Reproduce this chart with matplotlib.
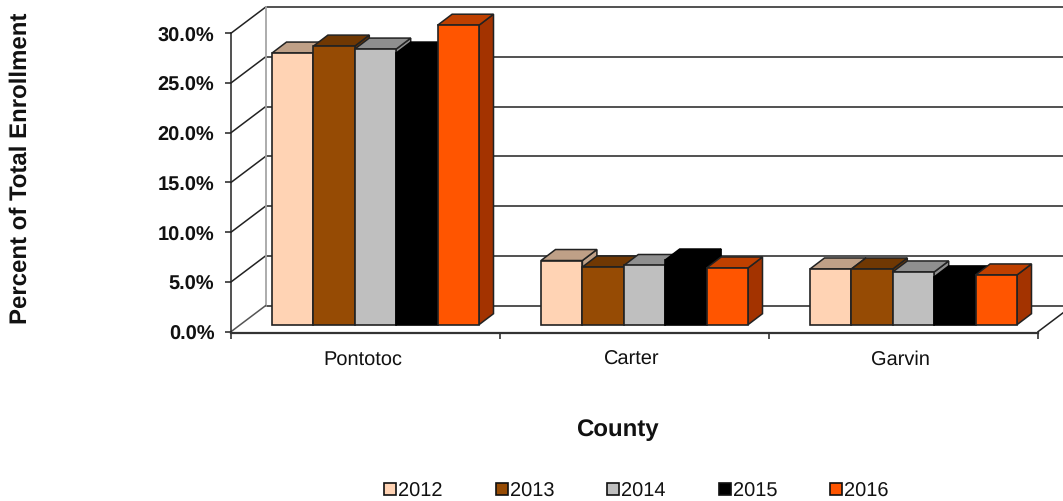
import matplotlib
matplotlib.use('Agg')
import matplotlib.pyplot as plt
from matplotlib.patches import Polygon, Patch

plt.rcParams['font.family'] = ['Liberation Sans', 'DejaVu Sans']
plt.rcParams['text.hinting'] = 'none'
plt.rcParams['text.hinting_factor'] = 1

# values (percent of total enrollment)
counties = ['Pontotoc', 'Carter', 'Garvin']
years = ['2012', '2013', '2014', '2015', '2016']
v2012 = [27.3, 6.45, 5.6]
v2013 = [28.0, 5.8, 5.6]
v2014 = [27.7, 5.95, 5.3]
v2015 = [27.3, 6.5, 4.8]
v2016 = [30.1, 5.7, 5.0]
series = [v2012, v2013, v2014, v2015, v2016]
yticks = [0, 5, 10, 15, 20, 25, 30]

front_cols = ['#FFD3B4', '#964B04', '#BFBFBF', '#000000', '#FF5500']
top_cols = ['#BFA087', '#703803', '#8F8F8F', '#000000', '#BF4000']
side_cols = ['#BFA087', '#703803', '#8F8F8F', '#000000', '#A33300']
edge_cols = ['#222222', '#222222', '#222222', '#000000', '#222222']

fig = plt.figure(figsize=(10.63, 5.02), dpi=100)
ax = fig.add_axes([231 / 1063, (502 - 332.7) / 502, 807 / 1063, 298.5 / 502])
ax.set_xlim(0, 3)
ax.set_ylim(0, 30)
ax.patch.set_visible(False)

# one pixel in data units, for the fake 3D depth
px = 3 / 807
py = 30 / 298.5
wall_dx, wall_dy = 34.5 * px, 26 * py
bar_dx, bar_dy = 14.5 * px, 11 * py
front_dx, front_dy = 8 * px, 7 * py
right_edge = (1063 - 231) * px

# back wall and floor
for t in yticks:
    ax.plot([wall_dx, right_edge], [t + wall_dy, t + wall_dy], color='#222222', lw=1.1, clip_on=False, zorder=1)
    if t > 0:
        ax.plot([0, wall_dx], [t, t + wall_dy], color='#222222', lw=1.1, clip_on=False, zorder=1)
ax.plot([wall_dx, wall_dx], [wall_dy, 30 + wall_dy], color='#A6A6A6', lw=1.3, clip_on=False, zorder=1)
ax.plot([0, wall_dx], [0, wall_dy], color='#555555', lw=1.1, clip_on=False, zorder=1)
ax.plot([3, right_edge], [0, wall_dy * (right_edge - 3) / wall_dx], color='#222222', lw=1.1, clip_on=False, zorder=1)

# bars, drawn left to right so that each one covers the one before
start = 33 * px
width = 41.4 * px
z = 2
for c in range(len(counties)):
    for s in range(len(years)):
        v = series[s][c]
        x0 = c + start + s * width + front_dx
        x1 = x0 + width
        y0 = front_dy
        y1 = y0 + v
        side = Polygon([(x1, y0), (x1 + bar_dx, y0 + bar_dy), (x1 + bar_dx, y1 + bar_dy), (x1, y1)],
                       facecolor=side_cols[s], edgecolor=edge_cols[s], lw=1.1, zorder=z, clip_on=False)
        top = Polygon([(x0, y1), (x0 + bar_dx, y1 + bar_dy), (x1 + bar_dx, y1 + bar_dy), (x1, y1)],
                      facecolor=top_cols[s], edgecolor=edge_cols[s], lw=1.1, zorder=z, clip_on=False)
        ax.add_patch(side)
        ax.add_patch(top)
        ax.bar(x0, v, width, bottom=y0, align='edge', color=front_cols[s], edgecolor=edge_cols[s],
               lw=1.2, zorder=z + 0.5, clip_on=False)
        z += 1

# axes
for sp in ['top', 'right']:
    ax.spines[sp].set_visible(False)
ax.spines['left'].set_color('#222222')
ax.spines['left'].set_linewidth(1.1)
ax.spines['bottom'].set_color('#333333')
ax.spines['bottom'].set_linewidth(1.6)
ax.spines['bottom'].set_position(('outward', 0.7))
ax.spines['left'].set_zorder(1)

ax.set_yticks(yticks)
ax.set_yticklabels([f'{t:.1f}%' for t in yticks], fontsize=14.3, fontweight='bold', color='#111111')
ax.tick_params(axis='y', length=4, width=1.1, color='#222222', pad=8)
ax.set_xticks([0, 1, 2, 3])
ax.set_xticklabels([])
ax.tick_params(axis='x', which='major', length=4, width=1.1, color='#222222')
ax.set_xticks([i + 0.5 - 3 * px for i in range(3)], labels=counties, minor=True)
ax.tick_params(axis='x', which='minor', length=0, pad=12, labelsize=14.2, labelcolor='#111111')

ax.set_xlabel('County', fontsize=17, fontweight='bold', color='#111111', va='center')
ax.xaxis.set_label_coords((617 - 231) / 807, -(430 - 332.7) / 298.5)
ax.set_ylabel('Percent of Total Enrollment', fontsize=17.3, fontweight='bold', color='#111111', va='center')
ax.yaxis.set_label_coords((21 - 231) / 807, (332.7 - 168) / 298.5)

handles = [Patch(facecolor=front_cols[i], edgecolor='#111111', lw=1.2, label=years[i]) for i in range(len(years))]
fig.legend(handles=handles, ncol=5, loc='center', bbox_to_anchor=(636.5 / 1063, 1 - 492 / 502), frameon=False,
           fontsize=14.1, handlelength=0.6, handleheight=0.6, handletextpad=0.1, columnspacing=2.72,
           labelcolor='#111111', borderpad=0)

fig.savefig('out.png', dpi=100)
